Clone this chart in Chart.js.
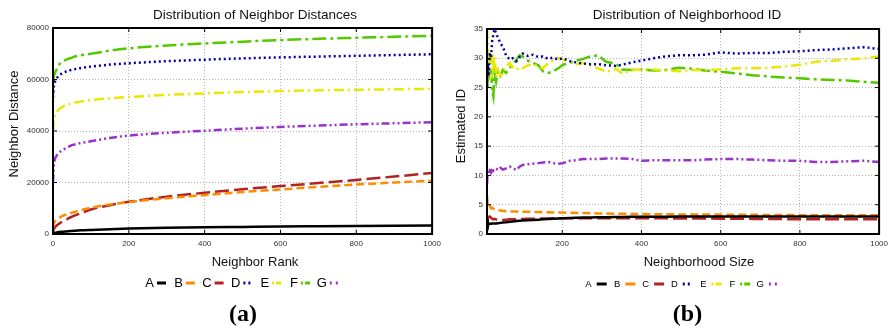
<!DOCTYPE html>
<html>
<head>
<meta charset="utf-8">
<script src="https://cdn.jsdelivr.net/npm/chart.js@4.4.1/dist/chart.umd.min.js"></script>
<style>
  html, body { margin: 0; padding: 0; background: #fff; }
  #wrap { position: relative; width: 893px; height: 331px; overflow: hidden; }
  #c1 { position: absolute; left: 0; top: 0; }
  #c2 { position: absolute; left: 446px; top: 0; }
</style>
</head>
<body>
<div id="wrap">
  <canvas id="c1" width="446" height="331"></canvas>
  <canvas id="c2" width="447" height="331"></canvas>
</div>
<script>
/* Two gnuplot-style panels: neighbour distances (a) and neighbourhood ID (b) */

const SERIES = ['A', 'B', 'C', 'D', 'E', 'F', 'G'];
const COLORS = ['#000000', '#ff8c00', '#b22222', '#0000a8', '#e8e800', '#55c800', '#9932cc'];
const DASHES = [[], [8, 4], [14, 5], [2, 3], [10, 4, 2, 4], [14, 4, 3, 4], [8, 3, 2, 3, 2, 3]];
const KEY_DASH = [[], [], [], [2, 3], [2, 2, 6, 2], [2, 2, 7, 2], [2, 4]];
const FONT = '"Liberation Sans", Arial, Helvetica, sans-serif';

// (a) Distribution of Neighbor Distances
const rank = [0, 2, 5, 10, 15, 20, 25, 40, 50, 60, 75, 100, 150, 200, 300, 400, 500, 600, 700, 800, 900, 1000];
const distA = [0, 200, 400, 600, 750, 850, 900, 1100, 1200, 1300, 1450, 1600, 1850, 2100, 2400, 2600, 2750, 2900, 3000, 3100, 3200, 3300];
const distB = [2500, 4000, 4800, 5600, 6200, 6600, 7000, 7800, 8300, 8700, 9300, 10200, 11500, 12400, 13900, 15100, 16300, 17300, 18300, 19200, 20000, 20700];
const distC = [800, 1800, 2600, 3300, 3900, 4400, 4900, 6000, 6700, 7300, 8200, 9500, 11200, 12500, 14500, 16000, 17400, 18600, 19800, 21000, 22300, 23700];
const distD = [53000, 57000, 59000, 60500, 61300, 62000, 62500, 63300, 63800, 64100, 64500, 65000, 65800, 66300, 67100, 67700, 68200, 68600, 68900, 69200, 69500, 69800];
const distE = [40000, 44000, 46000, 47500, 48300, 48900, 49400, 50300, 50800, 51100, 51500, 52000, 52700, 53200, 54000, 54600, 55100, 55500, 55800, 56000, 56200, 56400];
const distF = [59000, 61000, 62500, 64000, 65500, 66500, 67000, 68000, 68500, 69000, 69400, 70000, 71200, 72100, 73200, 74000, 74700, 75300, 75800, 76200, 76600, 77000];
const distG = [20000, 26000, 29000, 30500, 31500, 32100, 32600, 33800, 34500, 34900, 35400, 36000, 37300, 38200, 39300, 40100, 40900, 41600, 42100, 42600, 43000, 43400];
const distTicksX = [0, 200, 400, 600, 800, 1000];
const distTicksY = [0, 20000, 40000, 60000, 80000];

// (b) Distribution of Neighborhood ID
const size = [10, 12, 14, 17, 20, 23, 26, 29, 33, 38, 44, 50, 58, 67, 75, 84, 92, 100, 113, 126, 140, 151, 165, 176, 190, 202, 220, 235, 253, 270, 290, 311, 336, 351, 376, 400, 430, 460, 494, 530, 560, 600, 640, 680, 720, 760, 800, 840, 880, 920, 960, 1000];
const idA = [2.5, 2.0, 1.8, 1.7, 1.75, 1.8, 1.8, 1.8, 1.8, 1.85, 1.9, 1.95, 2.0, 2.1, 2.15, 2.2, 2.25, 2.3, 2.35, 2.4, 2.45, 2.5, 2.55, 2.6, 2.65, 2.7, 2.75, 2.78, 2.8, 2.83, 2.85, 2.87, 2.9, 2.92, 2.94, 2.95, 2.96, 2.96, 2.97, 2.97, 2.97, 2.98, 2.98, 2.98, 2.98, 2.99, 2.99, 2.99, 3.0, 3.0, 3.0, 3.0];
const idB = [6.5, 5.0, 4.6, 4.8, 4.4, 4.5, 4.3, 4.2, 4.1, 4.0, 4.0, 3.95, 3.9, 3.9, 3.85, 3.85, 3.8, 3.8, 3.8, 3.78, 3.75, 3.72, 3.7, 3.68, 3.66, 3.65, 3.62, 3.6, 3.57, 3.55, 3.5, 3.48, 3.46, 3.45, 3.43, 3.4, 3.38, 3.36, 3.35, 3.33, 3.32, 3.3, 3.28, 3.27, 3.26, 3.24, 3.22, 3.21, 3.2, 3.2, 3.2, 3.2];
const idC = [2.3, 2.6, 2.9, 3.0, 2.8, 2.6, 2.5, 2.6, 2.5, 2.4, 2.4, 2.4, 2.45, 2.5, 2.5, 2.5, 2.55, 2.55, 2.6, 2.6, 2.62, 2.64, 2.66, 2.68, 2.7, 2.7, 2.7, 2.7, 2.7, 2.7, 2.7, 2.7, 2.7, 2.7, 2.7, 2.7, 2.68, 2.67, 2.66, 2.65, 2.64, 2.62, 2.6, 2.58, 2.56, 2.54, 2.52, 2.51, 2.5, 2.5, 2.5, 2.5];
const idD = [26, 29, 27, 31, 30, 33, 34, 35, 34.2, 33.5, 32.5, 32, 30.5, 29.8, 30, 29.5, 30.2, 30.8, 30.4, 30.6, 30.2, 30.3, 29.9, 30.1, 29.8, 30.0, 29.5, 29.3, 29.1, 29.0, 29.0, 28.8, 28.7, 28.9, 29.3, 29.6, 30.0, 30.3, 30.5, 30.5, 30.6, 31.0, 30.8, 30.9, 30.9, 31.1, 31.2, 31.4, 31.5, 31.7, 31.9, 31.6];
const idE = [35, 33, 27.5, 30.5, 26.5, 31, 29, 30.5, 26.8, 28, 27, 27.3, 28.5, 29.2, 28.5, 28, 28.5, 28.3, 28.8, 29.0, 28.6, 28.3, 29.2, 29.6, 30.0, 29.8, 29.3, 29.0, 29.2, 28.8, 28.3, 27.7, 28.2, 27.4, 28.0, 28.1, 28.1, 27.9, 27.8, 28.0, 28.0, 28.1, 28.3, 28.3, 28.4, 28.6, 28.9, 29.4, 29.6, 29.8, 30.0, 30.3];
const idF = [28, 25, 29.5, 26.5, 28.5, 24.5, 23.5, 27.5, 26, 27.8, 27, 28, 27.5, 28.3, 29, 29.7, 30.5, 30.3, 29.6, 29.2, 28.8, 27.8, 27.5, 27.7, 28.3, 28.9, 29.2, 29.6, 29.9, 30.3, 30.5, 29.4, 29.0, 28.1, 28.0, 28.1, 27.9, 28.0, 28.4, 28.2, 27.9, 27.7, 27.4, 27.1, 26.9, 26.7, 26.6, 26.4, 26.3, 26.2, 26.0, 25.8];
const idG = [8.5, 11, 10.2, 10.8, 10.5, 11.3, 10.8, 11.0, 11.2, 10.9, 11.3, 11.0, 11.2, 11.5, 11.3, 10.9, 11.5, 11.8, 11.9, 12.0, 12.1, 12.2, 12.3, 12.1, 12.0, 12.1, 12.5, 12.6, 12.8, 12.8, 12.8, 12.9, 12.9, 12.9, 12.8, 12.5, 12.6, 12.6, 12.6, 12.6, 12.7, 12.8, 12.8, 12.7, 12.6, 12.5, 12.5, 12.3, 12.3, 12.4, 12.5, 12.3];
const idTicksX = [200, 400, 600, 800, 1000];
const idTicksY = [0, 5, 10, 15, 20, 25, 30, 35];

// box + inward ticks + texts, gnuplot look
const gnuFrame = {
  id: 'gnuFrame',
  afterDatasetsDraw(chart) {
    const { ctx, chartArea: a, scales: { x, y } } = chart;
    ctx.save();
    ctx.strokeStyle = '#000';
    ctx.lineWidth = 1;
    ctx.beginPath();
    x.ticks.forEach(t => {
      const px = x.getPixelForValue(t.value);
      ctx.moveTo(px, a.bottom); ctx.lineTo(px, a.bottom - 4);
      ctx.moveTo(px, a.top); ctx.lineTo(px, a.top + 4);
    });
    y.ticks.forEach(t => {
      const py = y.getPixelForValue(t.value);
      ctx.moveTo(a.left, py); ctx.lineTo(a.left + 4, py);
      ctx.moveTo(a.right, py); ctx.lineTo(a.right - 4, py);
    });
    ctx.stroke();
    ctx.lineWidth = 2;
    ctx.strokeRect(a.left, a.top, a.width, a.height);
    ctx.restore();
  },
  afterDraw(chart, args, o) {
    const ctx = chart.ctx;
    ctx.save();
    ctx.fillStyle = '#111';
    ctx.textAlign = 'center';
    ctx.textBaseline = 'middle';
    ctx.font = '13.5px ' + FONT;
    ctx.fillText(o.title, o.titleX, 15.5);
    ctx.font = '13px ' + FONT;
    ctx.fillText(o.xTitle, o.xTitleX, 262);
    ctx.save();
    ctx.translate(o.yTitleX, o.yTitleY);
    ctx.rotate(-Math.PI / 2);
    ctx.fillText(o.yTitle, 0, 0);
    ctx.restore();

    // key: label first, then a line sample
    chart.data.datasets.forEach((ds, i) => {
      const right = o.keyX + i * o.keyStep;
      ctx.textAlign = 'right';
      ctx.font = o.keyFont + 'px ' + FONT;
      ctx.fillStyle = '#000';
      ctx.fillText(ds.label, right, o.keyY);
      ctx.strokeStyle = ds.borderColor;
      ctx.lineWidth = 3;
      ctx.setLineDash(KEY_DASH[i]);
      ctx.beginPath();
      ctx.moveTo(right + o.keyGap, o.keyY);
      ctx.lineTo(right + o.keyGap + o.keyLen, o.keyY);
      ctx.stroke();
      ctx.setLineDash([]);
    });

    ctx.textAlign = 'center';
    ctx.fillStyle = '#000';
    ctx.font = 'bold 24px "Liberation Serif", "Times New Roman", serif';
    ctx.fillText(o.tag, o.tagX, 315);
    ctx.restore();
  }
};

function makeSets(xs, ys, tension) {
  return ys.map((vals, i) => ({
    label: SERIES[i],
    data: xs.map((x, j) => ({ x, y: vals[j] })),
    borderColor: COLORS[i],
    borderDash: DASHES[i],
    borderWidth: 2.5,
    pointRadius: 0,
    fill: false,
    tension: 0,
    cubicInterpolationMode: tension ? 'monotone' : 'default'
  }));
}

function axes(xMin, xMax, xTicks, yMax, yTicks, yWidth) {
  const tickFont = { family: FONT, size: 8 };
  return {
    x: {
      type: 'linear', min: xMin, max: xMax,
      afterBuildTicks: s => { s.ticks = xTicks.map(v => ({ value: v })); },
      afterFit: s => { s.height = 41; },
      grid: { color: '#b4b4b4', lineWidth: 1, drawTicks: false },
      border: { display: false, dash: [1, 2] },
      ticks: { color: '#333', font: tickFont, padding: 5, maxRotation: 0, callback: v => String(v) }
    },
    y: {
      type: 'linear', min: 0, max: yMax,
      afterBuildTicks: s => { s.ticks = yTicks.map(v => ({ value: v })); },
      afterFit: s => { s.width = yWidth; },
      grid: { color: '#b4b4b4', lineWidth: 1, drawTicks: false },
      border: { display: false, dash: [1, 2] },
      ticks: { color: '#333', font: tickFont, padding: 4, callback: v => String(v) }
    }
  };
}

Chart.defaults.animation = false;

new Chart(document.getElementById('c1'), {
  type: 'line',
  data: { datasets: makeSets(rank, [distA, distB, distC, distD, distE, distF, distG], true) },
  options: {
    responsive: false,
    layout: { padding: { left: 0, top: 28, right: 13, bottom: 56 } },
    scales: axes(0, 1000, distTicksX, 80000, distTicksY, 53),
    plugins: {
      legend: { display: false },
      title: { display: false },
      tooltip: { enabled: false },
      gnuFrame: {
        title: 'Distribution of Neighbor Distances', titleX: 255,
        xTitle: 'Neighbor Rank', xTitleX: 255,
        yTitle: 'Neighbor Distance', yTitleX: 14, yTitleY: 124,
        keyX: 154, keyStep: 28.8, keyY: 283, keyFont: 13, keyGap: 3, keyLen: 9,
        tag: '(a)', tagX: 243
      }
    }
  },
  plugins: [gnuFrame]
});

new Chart(document.getElementById('c2'), {
  type: 'line',
  data: { datasets: makeSets(size, [idA, idB, idC, idD, idE, idF, idG], false) },
  options: {
    responsive: false,
    layout: { padding: { left: 0, top: 29, right: 12, bottom: 56 } },
    scales: axes(10, 1000, idTicksX, 35, idTicksY, 41),
    plugins: {
      legend: { display: false },
      title: { display: false },
      tooltip: { enabled: false },
      gnuFrame: {
        title: 'Distribution of Neighborhood ID', titleX: 241,
        xTitle: 'Neighborhood Size', xTitleX: 253,
        yTitle: 'Estimated ID', yTitleX: 15.5, yTitleY: 126,
        keyX: 145.7, keyStep: 28.7, keyY: 284, keyFont: 9.5, keyGap: 5, keyLen: 10,
        tag: '(b)', tagX: 241.5
      }
    }
  },
  plugins: [gnuFrame]
});
</script>
</body>
</html>
